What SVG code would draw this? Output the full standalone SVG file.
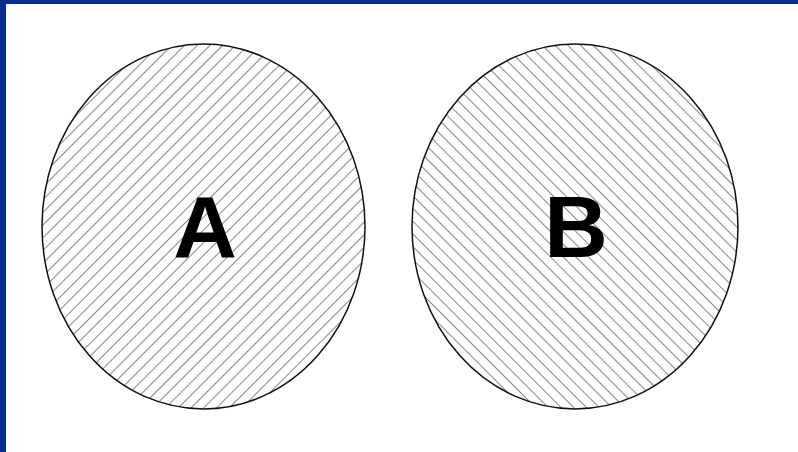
<svg xmlns="http://www.w3.org/2000/svg" width="798" height="452" viewBox="0 0 798 452">
<defs>
<pattern id="hatchA" patternUnits="userSpaceOnUse" width="9" height="9" patternTransform="rotate(45)">
<rect width="9" height="9" fill="#fdfdfd"/>
<line x1="0" y1="0" x2="0" y2="9" stroke="#555" stroke-width="1.4"/>
</pattern>
<pattern id="hatchB" patternUnits="userSpaceOnUse" width="9" height="9" patternTransform="rotate(-45)">
<rect width="9" height="9" fill="#fdfdfd"/>
<line x1="0" y1="0" x2="0" y2="9" stroke="#555" stroke-width="1.4"/>
</pattern>
<style>
.set{stroke:#111;stroke-width:1.5}
.lbl{font-family:"Liberation Sans",Arial,sans-serif;font-weight:bold;font-size:88px;fill:#000;text-anchor:middle}
</style>
</defs>
<rect width="798" height="452" fill="#fff"/>
<rect x="0" y="0" width="798" height="4" fill="#0a2d8c"/>
<rect x="0" y="0" width="6" height="452" fill="#0a2d8c"/>
<g id="setA">
<ellipse class="set" cx="203.5" cy="226.5" rx="161.5" ry="182.5" fill="url(#hatchA)"/>
<text class="lbl" x="205" y="257">A</text>
</g>
<g id="setB">
<ellipse class="set" cx="575" cy="226.5" rx="163" ry="182.5" fill="url(#hatchB)"/>
<text class="lbl" x="576" y="257">B</text>
</g>
<g id="connectors"/>
</svg>
